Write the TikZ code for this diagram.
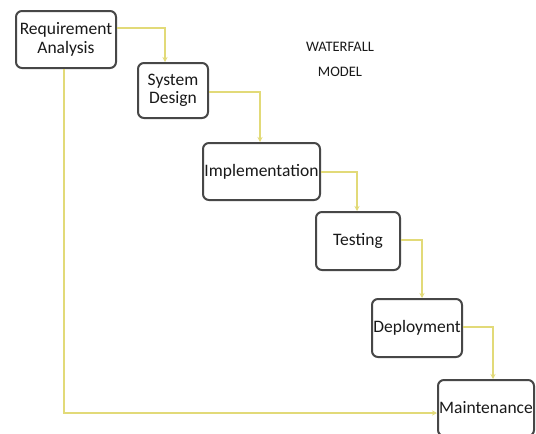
\documentclass[tikz,border=0pt]{standalone}
\usepackage{fontspec}
\setmainfont{Carlito}
\usetikzlibrary{arrows.meta}
\definecolor{conn}{HTML}{E2DA78}
\definecolor{bordc}{HTML}{474747}
\begin{document}
\begin{tikzpicture}[x=1pt,y=-1pt,
  stage/.style={draw=bordc, line width=2pt, rounded corners=6pt, fill=white,
    align=center, inner sep=0pt, font=\fontsize{17.5}{18.5}\selectfont, text=black!90},
  flow/.style={draw=conn, line width=1.6pt, -{Stealth[length=5pt,width=5pt]}},
  title/.style={align=center, font=\fontsize{14.5}{25}\selectfont, text=black!90}]
\useasboundingbox[fill=white] (0,0) rectangle (536,434);
\node[stage, minimum width=100pt, minimum height=57pt] (req) at (66,39.5) {Requirement\\Analysis};
\node[stage, minimum width=70pt, minimum height=55pt] (sd) at (173,90.5) {System\\Design};
\node[stage, minimum width=117pt, minimum height=57pt] (impl) at (261.5,171.5) {Implementation};
\node[stage, minimum width=84pt, minimum height=58pt] (test) at (358,241) {Testing};
\node[stage, minimum width=90pt, minimum height=58pt] (dep) at (417,328) {Deployment};
\node[stage, minimum width=96pt, minimum height=56pt] (maint) at (486,408) {Maintenance};
\node[title] (ttl) at (340,59) {WATERFALL\\MODEL};
\draw[flow] (req.east |- 0,28) -| (sd.north -| 165,0);
\draw[flow] (sd.east |- 0,92) -| (impl.north -| 260,0);
\draw[flow] (impl.east |- 0,172) -| (test.north -| 357,0);
\draw[flow] (test.east |- 0,240) -| (dep.north -| 422,0);
\draw[flow] (dep.east |- 0,327) -| (maint.north -| 493,0);
\draw[flow] (req.south -| 64,0) |- (maint.west |- 0,413);
\end{tikzpicture}
\end{document}
